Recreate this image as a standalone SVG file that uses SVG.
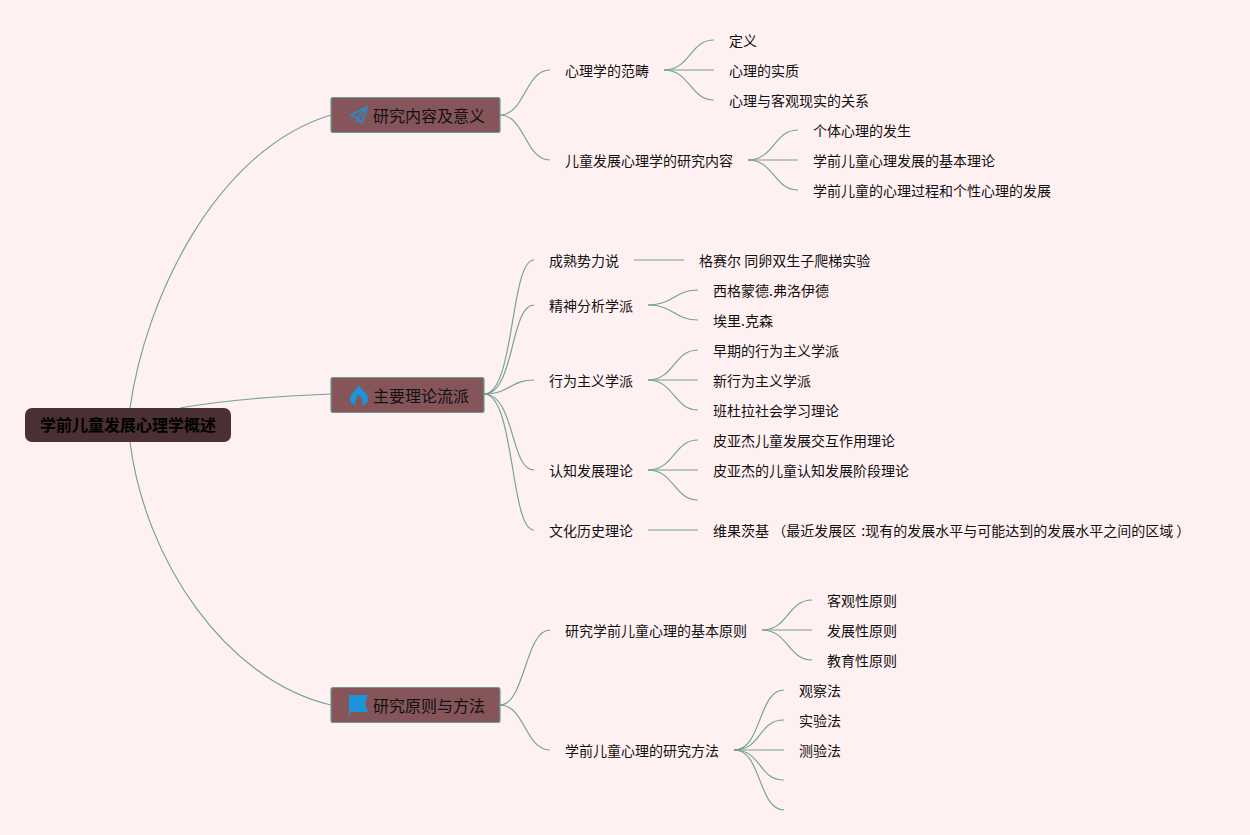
<svg xmlns="http://www.w3.org/2000/svg" width="1250" height="835" viewBox="0 0 1250 835">
<style>
text{font-family:"Noto Sans CJK SC","Noto Sans",sans-serif;fill:#111;dominant-baseline:central}
.l{font-size:14px}
.m{font-size:16px}
.r{font-size:16px;font-weight:700;fill:#000}
.box{fill:#85555a;stroke:#6f9c90;stroke-width:1.2}
.root{fill:#4a2f33}
.ic{fill:#1d93d8}
.pl{fill:none;stroke:#3585ba;stroke-width:2;stroke-linejoin:round}
#connectors path{fill:none;stroke:#70a393;stroke-width:1.15}
</style>
<rect width="1250" height="835" fill="#fff0f1"/>
<g id="connectors">
<path d="M130 408C145 300 215 150 331 115"/>
<path d="M180 408C225 400 280 396 331 394"/>
<path d="M130 442C145 560 225 680 331 705"/>
<path d="M500 115C525 115 525 70 550 70"/>
<path d="M500 115C525 115 525 160 550 160"/>
<path d="M664 70C690 70 690 40 714 40"/>
<path d="M664 70H714"/>
<path d="M664 70C690 70 690 100 714 100"/>
<path d="M748 160C774 160 774 130 798 130"/>
<path d="M748 160H798"/>
<path d="M748 160C774 160 774 190 798 190"/>
<path d="M484 394C515 394 510 260 534 260"/>
<path d="M484 394C515 394 510 305 534 305"/>
<path d="M484 394C510 394 510 380 534 380"/>
<path d="M484 394C515 394 510 470 534 470"/>
<path d="M484 394C515 394 510 530 534 530"/>
<path d="M634 260H684"/>
<path d="M648 305C674 305 674 290 698 290"/>
<path d="M648 305C674 305 674 320 698 320"/>
<path d="M648 380C674 380 674 350 698 350"/>
<path d="M648 380H698"/>
<path d="M648 380C674 380 674 410 698 410"/>
<path d="M648 470C674 470 674 440 698 440"/>
<path d="M648 470H698"/>
<path d="M648 470C674 470 674 500 698 500"/>
<path d="M648 530H698"/>
<path d="M500 705C525 705 525 630 550 630"/>
<path d="M500 705C525 705 525 750 550 750"/>
<path d="M762 630C788 630 788 600 812 600"/>
<path d="M762 630H812"/>
<path d="M762 630C788 630 788 660 812 660"/>
<path d="M734 750C762 750 758 690 784 690"/>
<path d="M734 750C762 750 758 720 784 720"/>
<path d="M734 750H784"/>
<path d="M734 750C762 750 758 780 784 780"/>
<path d="M734 750C762 750 758 810 784 810"/>
</g>
<g id="root"><rect class="root" x="25" y="408" width="206" height="34" rx="7"/><text class="r" x="40" y="424">学前儿童发展心理学概述</text></g>
<g id="n1"><rect class="box" x="331" y="97.500" width="169" height="35" rx="2"/><path class="pl" d="M367 107L351 115L357 118L362 123ZM367 107L357 118V122.500"/><text class="m" x="373" y="115">研究内容及意义</text></g>
<g id="n2"><rect class="box" x="331" y="377.500" width="153" height="35" rx="2"/><path class="ic" d="M359 385C361 390 368 393 368 399C368 403 365 405 362 405C364 401 361 397 359 395C357 397 354 401 356 405C353 405 350 403 350 399C350 393 357 390 359 385Z"/><text class="m" x="373" y="395">主要理论流派</text></g>
<g id="n3"><rect class="box" x="331" y="687.500" width="169" height="35" rx="2"/><path class="ic" d="M349 695H368L365 703.500L368 712H350V716H349Z"/><text class="m" x="373" y="705">研究原则与方法</text></g>
<g id="t1"><text class="l" x="565" y="70">心理学的范畴</text></g>
<g id="t2"><text class="l" x="565" y="160">儿童发展心理学的研究内容</text></g>
<g id="t3"><text class="l" x="729" y="40">定义</text></g>
<g id="t4"><text class="l" x="729" y="70">心理的实质</text></g>
<g id="t5"><text class="l" x="729" y="100">心理与客观现实的关系</text></g>
<g id="t6"><text class="l" x="813" y="130">个体心理的发生</text></g>
<g id="t7"><text class="l" x="813" y="160">学前儿童心理发展的基本理论</text></g>
<g id="t8"><text class="l" x="813" y="190">学前儿童的心理过程和个性心理的发展</text></g>
<g id="t9"><text class="l" x="549" y="260">成熟势力说</text></g>
<g id="t10"><text class="l" x="549" y="305">精神分析学派</text></g>
<g id="t11"><text class="l" x="549" y="380">行为主义学派</text></g>
<g id="t12"><text class="l" x="549" y="470">认知发展理论</text></g>
<g id="t13"><text class="l" x="549" y="530">文化历史理论</text></g>
<g id="t14"><text class="l" x="699" y="260">格赛尔 同卵双生子爬梯实验</text></g>
<g id="t15"><text class="l" x="713" y="290">西格蒙德.弗洛伊德</text></g>
<g id="t16"><text class="l" x="713" y="320">埃里.克森</text></g>
<g id="t17"><text class="l" x="713" y="350">早期的行为主义学派</text></g>
<g id="t18"><text class="l" x="713" y="380">新行为主义学派</text></g>
<g id="t19"><text class="l" x="713" y="410">班杜拉社会学习理论</text></g>
<g id="t20"><text class="l" x="713" y="440">皮亚杰儿童发展交互作用理论</text></g>
<g id="t21"><text class="l" x="713" y="470">皮亚杰的儿童认知发展阶段理论</text></g>
<g id="t22"><text class="l" x="713" y="530" xml:space="preserve">维果茨基 （最近发展区 <tspan dx="2">:现有的发展水平与可能达到的发展水平之间的区域 ）</tspan></text></g>
<g id="t23"><text class="l" x="565" y="630">研究学前儿童心理的基本原则</text></g>
<g id="t24"><text class="l" x="565" y="750">学前儿童心理的研究方法</text></g>
<g id="t25"><text class="l" x="827" y="600">客观性原则</text></g>
<g id="t26"><text class="l" x="827" y="630">发展性原则</text></g>
<g id="t27"><text class="l" x="827" y="660">教育性原则</text></g>
<g id="t28"><text class="l" x="799" y="690">观察法</text></g>
<g id="t29"><text class="l" x="799" y="720">实验法</text></g>
<g id="t30"><text class="l" x="799" y="750">测验法</text></g>
</svg>
